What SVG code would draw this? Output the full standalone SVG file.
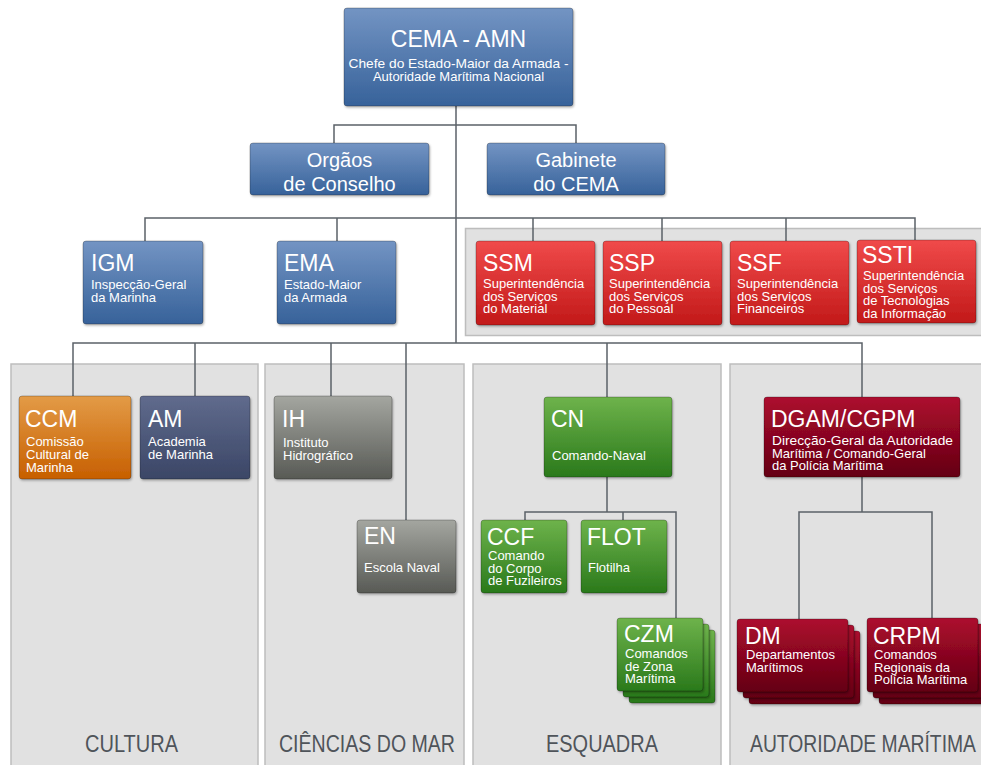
<svg xmlns="http://www.w3.org/2000/svg" width="981" height="765" viewBox="0 0 981 765">
<defs>
<linearGradient id="gBlue" x1="0" y1="0" x2="0" y2="1"><stop offset="0" stop-color="#7394c3"/><stop offset="1" stop-color="#37629a"/></linearGradient>
<linearGradient id="gRed" x1="0" y1="0" x2="0" y2="1"><stop offset="0" stop-color="#f04a4a"/><stop offset="1" stop-color="#c21919"/></linearGradient>
<linearGradient id="gOrange" x1="0" y1="0" x2="0" y2="1"><stop offset="0" stop-color="#e39b47"/><stop offset="1" stop-color="#c75f00"/></linearGradient>
<linearGradient id="gSlate" x1="0" y1="0" x2="0" y2="1"><stop offset="0" stop-color="#606b8d"/><stop offset="1" stop-color="#3b4666"/></linearGradient>
<linearGradient id="gGray" x1="0" y1="0" x2="0" y2="1"><stop offset="0" stop-color="#a4a6a0"/><stop offset="1" stop-color="#585a55"/></linearGradient>
<linearGradient id="gGreen" x1="0" y1="0" x2="0" y2="1"><stop offset="0" stop-color="#6eb34b"/><stop offset="1" stop-color="#2a791b"/></linearGradient>
<linearGradient id="gCrimson" x1="0" y1="0" x2="0" y2="1"><stop offset="0" stop-color="#ad0b2f"/><stop offset="1" stop-color="#640011"/></linearGradient>
<filter id="sh" x="-10%" y="-10%" width="130%" height="130%">
<feDropShadow dx="1" dy="1.5" stdDeviation="1.2" flood-color="#000" flood-opacity="0.3"/>
</filter>
<style>
.c{fill:none;stroke:#5b6168;stroke-width:1.5}
.box{rx:3;ry:3;stroke:rgba(0,0,0,0.25);stroke-width:1;filter:url(#sh)}
.panel{fill:#e1e1e1;stroke:#bdbdbd;stroke-width:1.5}
text{font-family:"Liberation Sans",Arial,sans-serif;fill:#fff}
.t{font-size:23px}
.s{font-size:13px}
.h{font-size:20px}
.lab{font-size:23px;fill:#4f545a}
</style>
</defs>

<g id="panels">
<rect class="panel" x="465.5" y="228.5" width="520" height="107"/>
<rect class="panel" x="11" y="364" width="247" height="402"/>
<rect class="panel" x="265" y="364" width="199" height="402"/>
<rect class="panel" x="473" y="364" width="248" height="402"/>
<rect class="panel" x="730" y="364" width="260" height="402"/>
</g>

<g id="connectors">
<path class="c" d="M456 106V343"/>
<path class="c" d="M334 143V125H576V143"/>
<path class="c" d="M145 241V218H915V240"/>
<path class="c" d="M337 218V241M533 218V241M662 218V241M786 218V241"/>
<path class="c" d="M73 396V343H862V397"/>
<path class="c" d="M195 343V396M331 343V396M406 343V520M607 343V397"/>
<path class="c" d="M607 477V512M525 520V512H676V618M623 512V520"/>
<path class="c" d="M862 477V512M799 619V512H932V618"/>
</g>

<g id="CEMA">
<rect class="box" x="344" y="8" width="229" height="98" fill="url(#gBlue)"/>
<text class="t" x="458.5" y="47" text-anchor="middle">CEMA - AMN</text>
<text class="s" x="458.5" y="68" text-anchor="middle" textLength="220" lengthAdjust="spacingAndGlyphs">Chefe do Estado-Maior da Armada -</text>
<text class="s" x="458.5" y="81" text-anchor="middle">Autoridade Marítima Nacional</text>
</g>

<g id="OC">
<rect class="box" x="250" y="143" width="179" height="52" fill="url(#gBlue)"/>
<text class="h" x="339.5" y="167" text-anchor="middle">Orgãos</text>
<text class="h" x="339.5" y="191" text-anchor="middle">de Conselho</text>
</g>

<g id="GAB">
<rect class="box" x="487" y="143" width="178" height="52" fill="url(#gBlue)"/>
<text class="h" x="576" y="167" text-anchor="middle">Gabinete</text>
<text class="h" x="576" y="191" text-anchor="middle">do CEMA</text>
</g>

<g id="IGM">
<rect class="box" x="83" y="241" width="120" height="83" fill="url(#gBlue)"/>
<text class="t" x="91" y="271">IGM</text>
<text class="s" x="91" y="289">Inspecção-Geral</text>
<text class="s" x="91" y="302">da Marinha</text>
</g>

<g id="EMA">
<rect class="box" x="277" y="241" width="119" height="83" fill="url(#gBlue)"/>
<text class="t" x="284" y="271">EMA</text>
<text class="s" x="284" y="289">Estado-Maior</text>
<text class="s" x="284" y="302">da Armada</text>
</g>

<g id="SSM">
<rect class="box" x="476" y="241" width="119" height="84" fill="url(#gRed)"/>
<text class="t" x="483" y="271">SSM</text>
<text class="s" x="483" y="288">Superintendência</text>
<text class="s" x="483" y="300.5">dos Serviços</text>
<text class="s" x="483" y="313">do Material</text>
</g>

<g id="SSP">
<rect class="box" x="603" y="241" width="119" height="84" fill="url(#gRed)"/>
<text class="t" x="609" y="271">SSP</text>
<text class="s" x="609" y="288">Superintendência</text>
<text class="s" x="609" y="300.5">dos Serviços</text>
<text class="s" x="609" y="313">do Pessoal</text>
</g>

<g id="SSF">
<rect class="box" x="730" y="241" width="119" height="84" fill="url(#gRed)"/>
<text class="t" x="737" y="271">SSF</text>
<text class="s" x="737" y="288">Superintendência</text>
<text class="s" x="737" y="300.5">dos Serviços</text>
<text class="s" x="737" y="313">Financeiros</text>
</g>

<g id="SSTI">
<rect class="box" x="857" y="240" width="119" height="83" fill="url(#gRed)"/>
<text class="t" x="862" y="263">SSTI</text>
<text class="s" x="863" y="280">Superintendência</text>
<text class="s" x="863" y="292.5">dos Serviços</text>
<text class="s" x="863" y="305">de Tecnologias</text>
<text class="s" x="863" y="318">da Informação</text>
</g>

<g id="CCM">
<rect class="box" x="19" y="396" width="112" height="83" fill="url(#gOrange)"/>
<text class="t" x="25" y="427">CCM</text>
<text class="s" x="26" y="446">Comissão</text>
<text class="s" x="26" y="459">Cultural de</text>
<text class="s" x="26" y="472">Marinha</text>
</g>

<g id="AM">
<rect class="box" x="140" y="396" width="110" height="83" fill="url(#gSlate)"/>
<text class="t" x="148" y="427">AM</text>
<text class="s" x="148" y="446">Academia</text>
<text class="s" x="148" y="459">de Marinha</text>
</g>

<g id="IH">
<rect class="box" x="274" y="396" width="118" height="83" fill="url(#gGray)"/>
<text class="t" x="282" y="427">IH</text>
<text class="s" x="283" y="447">Instituto</text>
<text class="s" x="283" y="460">Hidrográfico</text>
</g>

<g id="EN">
<rect class="box" x="357" y="520" width="99" height="73" fill="url(#gGray)"/>
<text class="t" x="364" y="544">EN</text>
<text class="s" x="364" y="572">Escola Naval</text>
</g>

<g id="CN">
<rect class="box" x="544" y="397" width="128" height="80" fill="url(#gGreen)"/>
<text class="t" x="551" y="427">CN</text>
<text class="s" x="552" y="460">Comando-Naval</text>
</g>

<g id="DGAM">
<rect class="box" x="764" y="397" width="196" height="80" fill="url(#gCrimson)"/>
<text class="t" x="771" y="427">DGAM/CGPM</text>
<text class="s" x="772" y="445" textLength="181" lengthAdjust="spacingAndGlyphs">Direcção-Geral da Autoridade</text>
<text class="s" x="772" y="457.5">Marítima / Comando-Geral</text>
<text class="s" x="772" y="470">da Polícia Marítima</text>
</g>

<g id="CCF">
<rect class="box" x="481" y="520" width="86" height="73" fill="url(#gGreen)"/>
<text class="t" x="487" y="545">CCF</text>
<text class="s" x="488" y="560">Comando</text>
<text class="s" x="488" y="572.5">do Corpo</text>
<text class="s" x="488" y="585">de Fuzileiros</text>
</g>

<g id="FLOT">
<rect class="box" x="581" y="520" width="86" height="73" fill="url(#gGreen)"/>
<text class="t" x="587" y="545">FLOT</text>
<text class="s" x="588" y="572">Flotilha</text>
</g>

<g id="CZM">
<rect class="box" x="629" y="630" width="86" height="73" fill="url(#gGreen)"/>
<rect class="box" x="623" y="624" width="86" height="73" fill="url(#gGreen)"/>
<rect class="box" x="617" y="618" width="86" height="73" fill="url(#gGreen)"/>
<text class="t" x="624" y="642">CZM</text>
<text class="s" x="625" y="658">Comandos</text>
<text class="s" x="625" y="670.5">de Zona</text>
<text class="s" x="625" y="683">Marítima</text>
</g>

<g id="DM">
<rect class="box" x="749" y="631" width="111" height="73" fill="url(#gCrimson)"/>
<rect class="box" x="743" y="625" width="111" height="73" fill="url(#gCrimson)"/>
<rect class="box" x="737" y="619" width="111" height="73" fill="url(#gCrimson)"/>
<text class="t" x="745" y="644">DM</text>
<text class="s" x="746" y="659">Departamentos</text>
<text class="s" x="746" y="671.5">Marítimos</text>
</g>

<g id="CRPM">
<rect class="box" x="879" y="630" width="111" height="74" fill="url(#gCrimson)"/>
<rect class="box" x="873" y="624" width="111" height="74" fill="url(#gCrimson)"/>
<rect class="box" x="867" y="618" width="111" height="74" fill="url(#gCrimson)"/>
<text class="t" x="873" y="644">CRPM</text>
<text class="s" x="874" y="659">Comandos</text>
<text class="s" x="874" y="671.5">Regionais da</text>
<text class="s" x="874" y="684">Polícia Marítima</text>
</g>

<g id="labels">
<text class="lab" x="85" y="752" textLength="93" lengthAdjust="spacingAndGlyphs">CULTURA</text>
<text class="lab" x="279" y="752" textLength="176" lengthAdjust="spacingAndGlyphs">CIÊNCIAS DO MAR</text>
<text class="lab" x="546" y="752" textLength="112" lengthAdjust="spacingAndGlyphs">ESQUADRA</text>
<text class="lab" x="750" y="752" textLength="226" lengthAdjust="spacingAndGlyphs">AUTORIDADE MARÍTIMA</text>
</g>
</svg>
